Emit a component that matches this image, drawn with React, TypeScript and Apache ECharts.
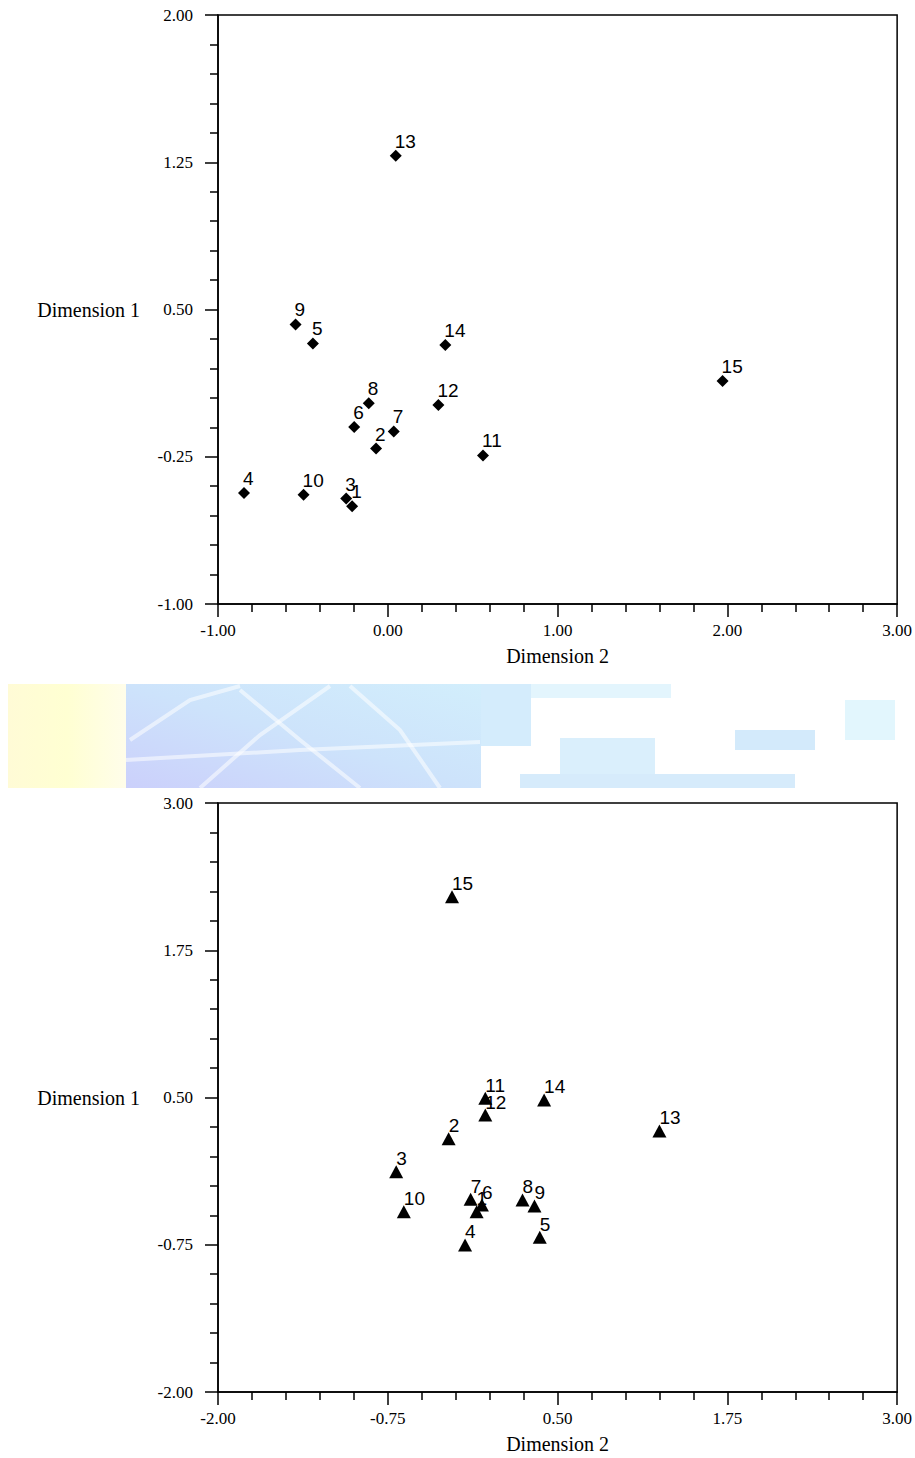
import React, { useEffect, useRef } from "react";
import * as echarts from "echarts";

const pointLabels = ["1", "2", "3", "4", "5", "6", "7", "8", "9", "10", "11", "12", "13", "14", "15"];

// Top chart (diamonds)
const topDim2 = [-0.21, -0.069, -0.245, -0.847, -0.441, -0.198, 0.035, -0.112, -0.543, -0.496, 0.561, 0.298, 0.047, 0.339, 1.972];
const topDim1 = [-0.502, -0.208, -0.463, -0.434, 0.327, -0.099, -0.121, 0.023, 0.424, -0.444, -0.243, 0.013, 1.283, 0.319, 0.136];

// Bottom chart (triangles)
const bottomDim2 = [-0.096, -0.302, -0.688, -0.181, 0.369, -0.057, -0.14, 0.242, 0.33, -0.632, -0.032, -0.032, 1.25, 0.401, -0.277];
const bottomDim1 = [-0.469, 0.15, -0.13, -0.752, -0.687, -0.413, -0.364, -0.37, -0.421, -0.469, 0.493, 0.351, 0.216, 0.479, 2.205];

// Axis ranges and tick steps
const topXRange = [-1, 3];
const topXStep = 1;
const topYRange = [-1, 2];
const topYStep = 0.75;
const bottomXRange = [-2, 3];
const bottomXStep = 1.25;
const bottomYRange = [-2, 3];
const bottomYStep = 1.25;

const xName = "Dimension 2";
const yName = "Dimension 1";

const SERIF = "'Liberation Serif', 'Times New Roman', serif";
const SANS = "'Liberation Sans', Arial, sans-serif";

function makeAxis(kind: "x" | "y", gridIndex: number, range: number[], step: number, name: string) {
  const isX = kind === "x";
  return {
    type: "value",
    gridIndex,
    min: range[0],
    max: range[1],
    interval: step,
    name,
    nameLocation: "middle",
    nameRotate: 0,
    nameGap: isX ? 42 : 78,
    nameTextStyle: { color: "#000", fontFamily: SERIF, fontSize: 20 },
    axisLine: { show: true, onZero: false, lineStyle: { color: "#000", width: 1.5 } },
    axisTick: { show: true, inside: false, length: 13, lineStyle: { color: "#000", width: 1.5 } },
    minorTick: { show: true, splitNumber: 5, length: 8, lineStyle: { color: "#000", width: 1.5 } },
    splitLine: { show: false },
    minorSplitLine: { show: false },
    axisLabel: {
      color: "#000",
      fontFamily: SERIF,
      fontSize: 17,
      margin: isX ? 18 : 25,
      formatter: (v: number) => v.toFixed(2),
      showMinLabel: true,
      showMaxLabel: true,
    },
  };
}

function makeSeries(xs: number[], ys: number[], idx: number, symbol: string, size: number | number[], labelPos: number[]) {
  return {
    type: "scatter",
    xAxisIndex: idx,
    yAxisIndex: idx,
    symbol,
    symbolSize: size,
    itemStyle: { color: "#000", opacity: 1 },
    data: xs.map((x, i) => [x, ys[i], pointLabels[i]]),
    label: {
      show: true,
      position: labelPos,
      align: "left",
      verticalAlign: "bottom",
      color: "#000",
      fontFamily: SANS,
      fontSize: 19,
      formatter: (p: any) => p.value[2],
    },
    emphasis: { disabled: true },
  };
}

export default function App() {
  const ref = useRef<HTMLDivElement>(null);
  useEffect(() => {
    if (!ref.current) return;
    const chart = echarts.init(ref.current, undefined, { renderer: "svg" });
    const whiteLine = { stroke: "rgba(255,255,255,0.55)", lineWidth: 4, fill: null };
    chart.setOption({
      animation: false,
      backgroundColor: "#fff",
      grid: [
        { left: 218, top: 15, width: 681, height: 589, show: true, borderColor: "#000", borderWidth: 1.5, backgroundColor: "transparent" },
        { left: 218, top: 803, width: 681, height: 589, show: true, borderColor: "#000", borderWidth: 1.5, backgroundColor: "transparent" },
      ],
      xAxis: [makeAxis("x", 0, topXRange, topXStep, xName), makeAxis("x", 1, bottomXRange, bottomXStep, xName)],
      yAxis: [makeAxis("y", 0, topYRange, topYStep, yName), makeAxis("y", 1, bottomYRange, bottomYStep, yName)],
      series: [
        makeSeries(topDim2, topDim1, 0, "diamond", 12, [5, 1]),
        makeSeries(bottomDim2, bottomDim1, 1, "triangle", [14, 13], [7, 3]),
      ],
      graphic: [
        {
          type: "group",
          silent: true,
          children: [
            {
              type: "rect",
              shape: { x: 8, y: 684, width: 118, height: 104 },
              style: {
                fill: new echarts.graphic.LinearGradient(0, 0, 1, 0, [
                  { offset: 0, color: "#fffbd6" },
                  { offset: 0.5, color: "#ffffd2" },
                  { offset: 1, color: "#fffdea" },
                ]),
              },
            },
            {
              type: "rect",
              shape: { x: 126, y: 684, width: 355, height: 104 },
              style: {
                fill: new echarts.graphic.LinearGradient(0, 1, 1, 0, [
                  { offset: 0, color: "#cbd0fb" },
                  { offset: 0.5, color: "#cde3fb" },
                  { offset: 1, color: "#d2eefc" },
                ]),
              },
            },
            { type: "rect", shape: { x: 481, y: 684, width: 50, height: 62 }, style: { fill: "#d4ecfc" } },
            { type: "rect", shape: { x: 531, y: 684, width: 140, height: 14 }, style: { fill: "#e3f5fd" } },
            { type: "rect", shape: { x: 520, y: 774, width: 275, height: 14 }, style: { fill: "#d6ebfb" } },
            { type: "rect", shape: { x: 560, y: 738, width: 95, height: 36 }, style: { fill: "#daeffc" } },
            { type: "rect", shape: { x: 735, y: 730, width: 80, height: 20 }, style: { fill: "#d3eafb" } },
            { type: "rect", shape: { x: 845, y: 700, width: 50, height: 40 }, style: { fill: "#e2f6fd" } },
            { type: "polyline", shape: { points: [[130, 740], [190, 700], [240, 686]] }, style: whiteLine },
            { type: "polyline", shape: { points: [[200, 788], [260, 735], [330, 686]] }, style: whiteLine },
            { type: "polyline", shape: { points: [[240, 690], [300, 740], [360, 788]] }, style: whiteLine },
            { type: "polyline", shape: { points: [[350, 686], [400, 730], [440, 788]] }, style: whiteLine },
            { type: "polyline", shape: { points: [[126, 760], [300, 750], [480, 742]] }, style: whiteLine },
          ],
        },
      ],
    });
    return () => chart.dispose();
  }, []);
  return <div ref={ref} style={{ position: "absolute", left: 0, top: 0, width: 915, height: 1458 }} />;
}
